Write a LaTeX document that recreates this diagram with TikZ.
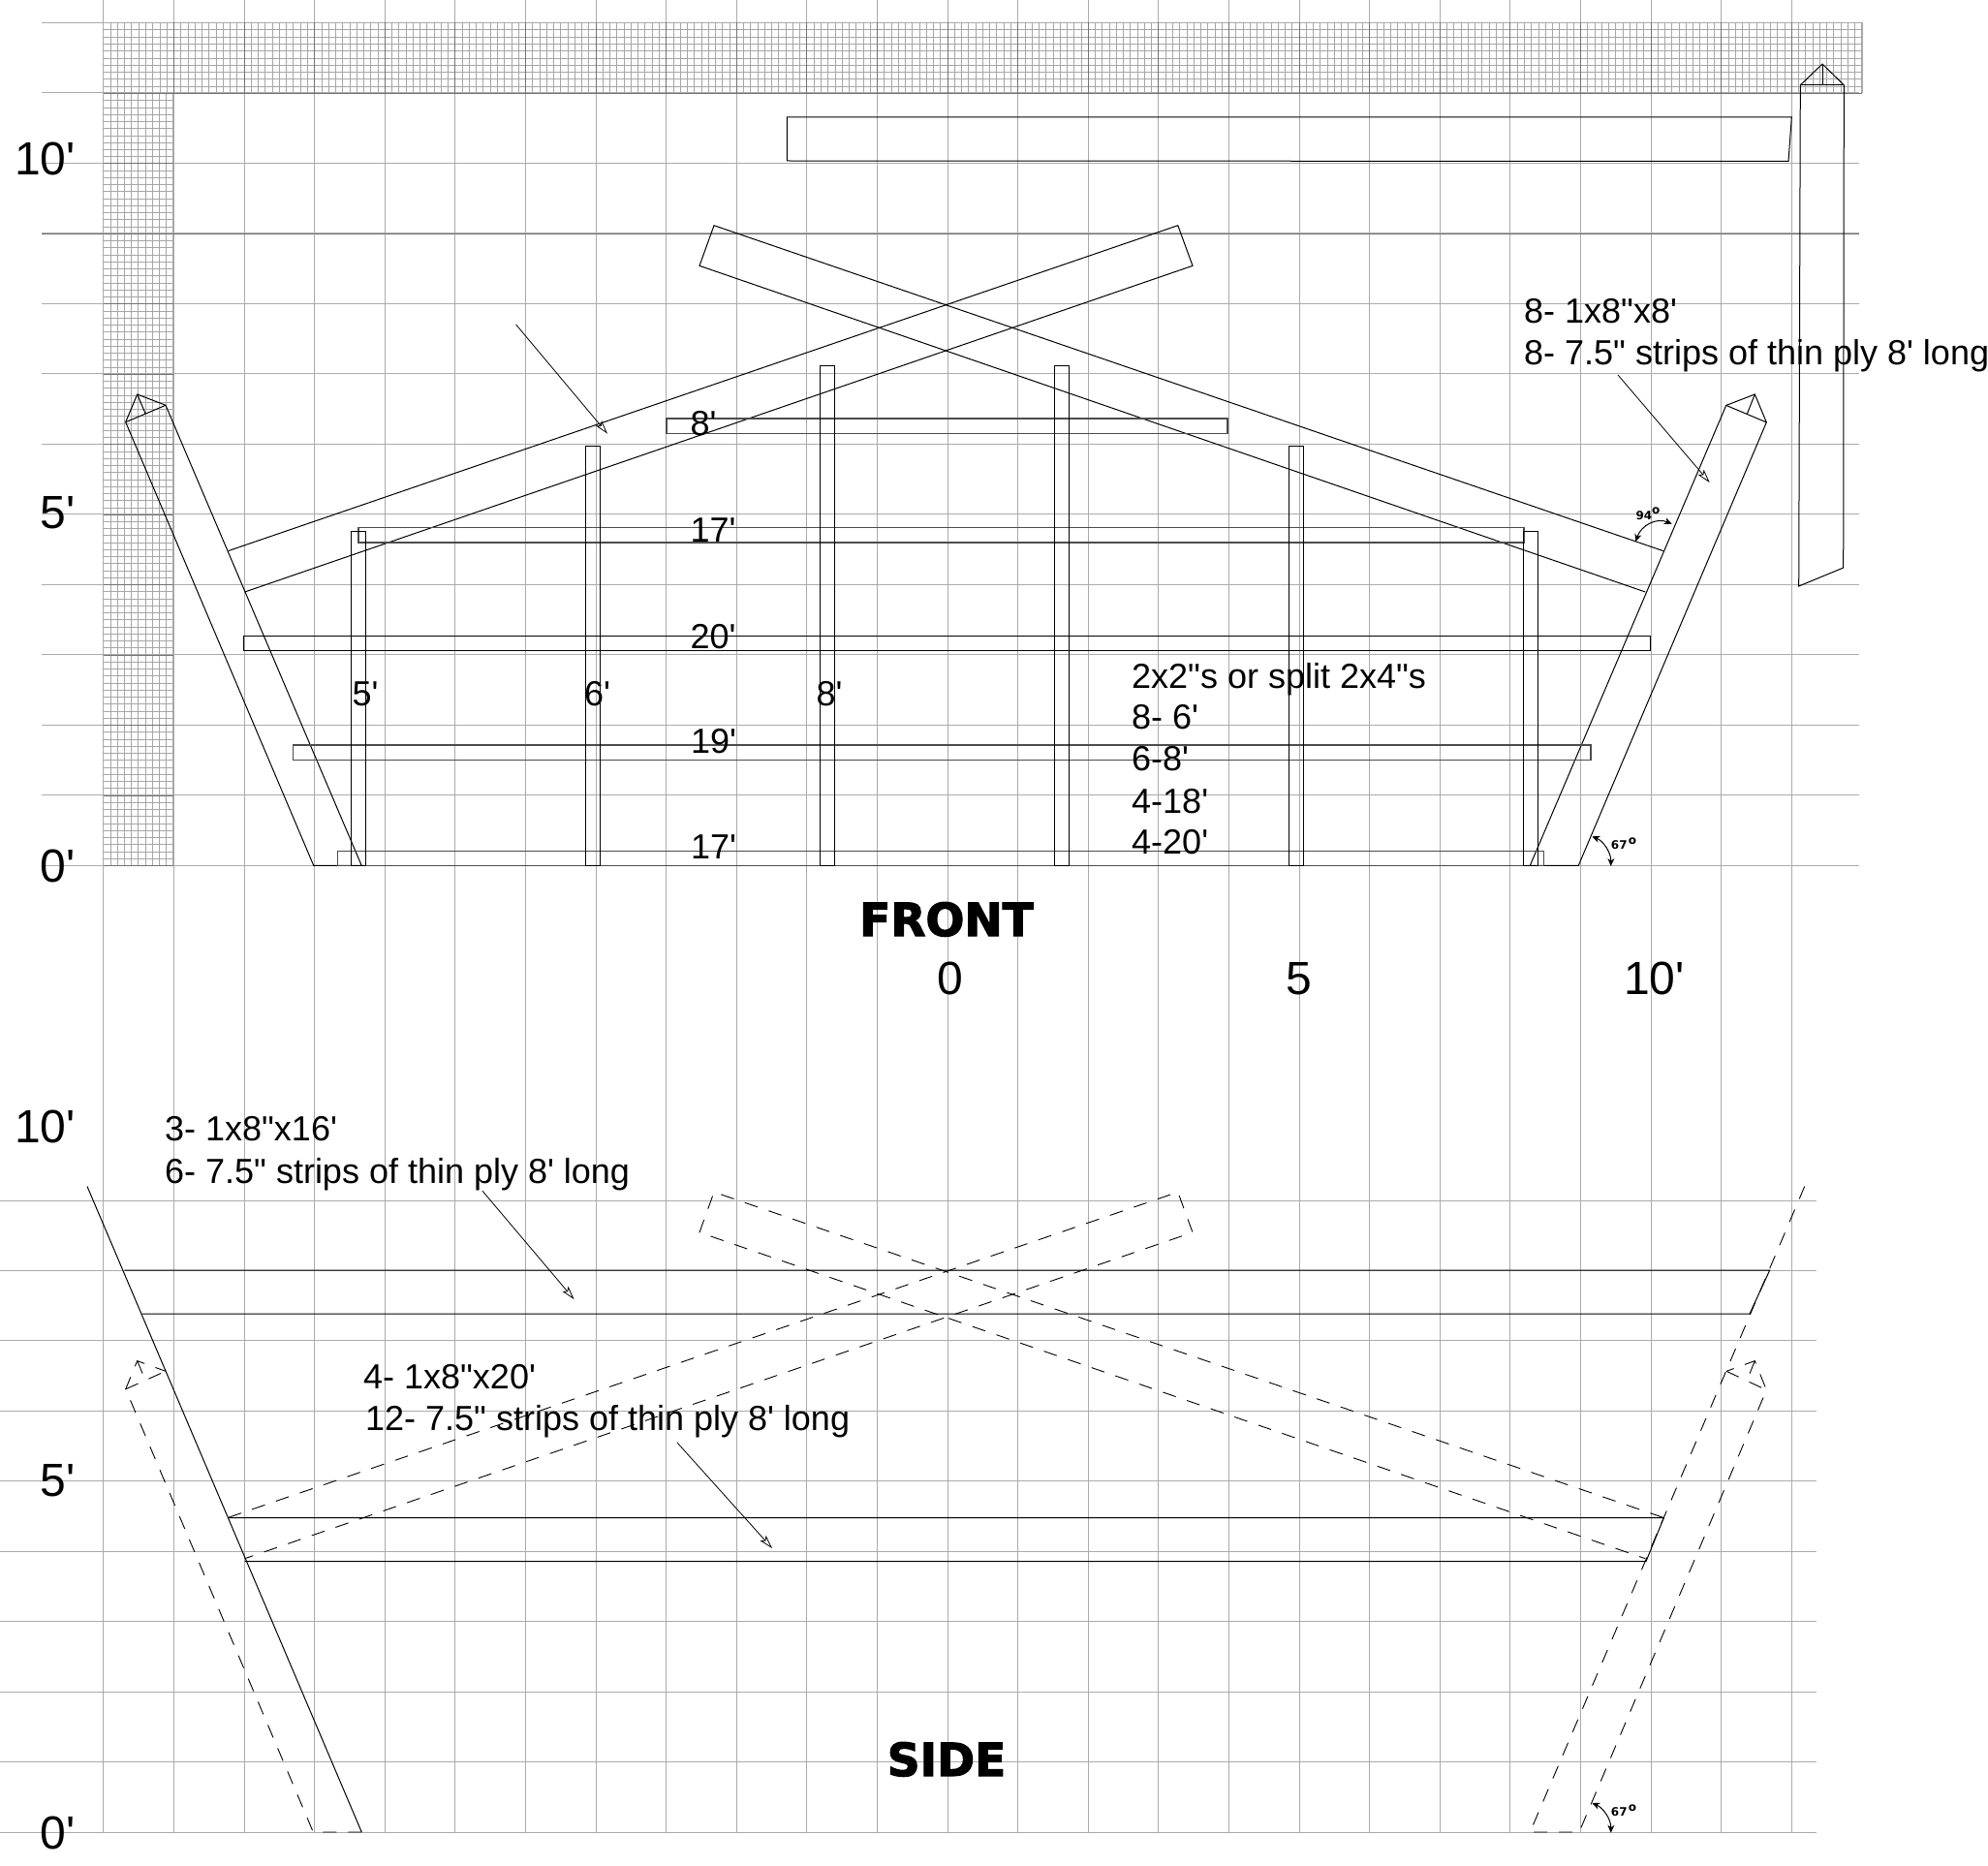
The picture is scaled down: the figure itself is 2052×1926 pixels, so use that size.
\documentclass[tikz,border=0pt]{standalone}
\usepackage{fontspec}
\usetikzlibrary{arrows.meta}
\newfontfamily\arl{Liberation Sans}
\newfontfamily\blk[FakeBold=2.5]{DejaVu Sans Bold}
\newfontfamily\tinybold{DejaVu Sans Bold}
\tikzset{
  x=1pt,y=-1pt,
  major/.style={draw=black!33,line width=0.8pt},
  darkmajor/.style={draw=black!55,line width=0.7pt},
  minor/.style={draw=black!35,line width=0.5pt},
  part/.style={draw=black,line width=1pt,line join=miter},
  barpart/.style={draw=black!70,line width=1.2pt},
  hidden/.style={draw=black,line width=0.9pt,dash pattern=on 14pt off 12pt},
  pointer/.style={draw=black,line width=0.8pt,-{Stealth[open,length=14pt,width=8pt,inset=3pt]}},
  dimarc/.style={draw=black,line width=1pt,{Stealth[length=8pt,width=7pt]}-{Stealth[length=8pt,width=7pt]}},
  big/.style={anchor=base west,inner sep=0pt,font=\arl\fontsize{48}{48}\selectfont},
  mid/.style={anchor=base west,inner sep=0pt,font=\arl\fontsize{36}{36}\selectfont},
  title/.style={anchor=base,inner sep=0pt,font=\blk\fontsize{47}{47}\selectfont},
  tiny/.style={anchor=base west,inner sep=0pt,font=\tinybold\fontsize{12}{12}\selectfont},
}
\begin{document}
\begin{tikzpicture}
\useasboundingbox (0,0) rectangle (2052,1926);
% fine grid bands
\foreach \i in {0,...,250} \draw[minor] ({106.7+7.26*\i},23.3) -- ({106.7+7.26*\i},96.3);
\foreach \i in {0,...,10} \draw[minor] (106.7,{23.3+7.3*\i}) -- (1922,{23.3+7.3*\i});
\foreach \i in {0,...,10} \draw[minor] ({106.7+7.2*\i},96.3) -- ({106.7+7.2*\i},893.3);
\foreach \i in {0,...,110} \draw[minor] (106.7,{96.3+7.245*\i}) -- (178.7,{96.3+7.245*\i});
% major grid
\foreach \k in {0,...,24} \draw[major] ({106.7+72.6*\k},0) -- ({106.7+72.6*\k},1891.2);
\draw[major] (1922,23.3) -- (1922,96.3);
\foreach \j in {0,...,12} \draw[major] (43.3,{23.3+72.5*\j}) -- (1919,{23.3+72.5*\j});
% darker major lines where they cross the fine bands
\foreach \k in {1,...,24} \draw[darkmajor] ({106.7+72.6*\k},23.3) -- ({106.7+72.6*\k},96.3);
\foreach \j in {1,...,11} \draw[darkmajor] (106.7,{96.3+72.5*\j}) -- (178.7,{96.3+72.5*\j});
\draw[darkmajor] (43.3,241) -- (1919,241);
\draw[darkmajor] (106.7,96.3) -- (1922,96.3);
\foreach \j in {0,...,9} \draw[major] (0,{1238.9+72.47*\j}) -- (1875,{1238.9+72.47*\j});
% FRONT: top plank and upright plank
\draw[part] (812.4,121) -- (1849.3,120.8) -- (1846,166.5) -- (812.4,166) -- cycle;
\draw[part] (1858.3,87.8) -- (1881,66.1) -- (1903.3,87.8) -- (1902.7,586) -- (1856.7,605) -- cycle;
\draw[part] (1858.3,87.8) -- (1903.3,87.8) (1881,66.1) -- (1881,87.8);
% FRONT: legs
\draw[part] (171,418.3) -- (141.7,407) -- (129.7,435.7) -- (323.7,893.3) -- (373.2,893.3) -- cycle;
\draw[part] (129.7,435.7) -- (171,418.3) (141.7,407) -- (150,426.7);
\draw[part] (1823.3,435.9) -- (1811.3,407) -- (1781.7,418.4) -- (1579.3,893.3) -- (1629.3,893.3) -- cycle;
\draw[part] (1781.7,418.4) -- (1823.3,435.9) (1811.3,407) -- (1803.3,427.3);
% FRONT: rafters
\draw[part] (1716.7,568.6) -- (737,232.7) -- (722,274.3) -- (1698.3,611);
\draw[part] (235.6,568.6) -- (1215.8,232.7) -- (1231,274.3) -- (252.6,611);
% FRONT: horizontal bars
\draw[barpart] (688,432) rectangle (1267,447.3);
\draw[barpart] (370,544.7) rectangle (1573,560);
\draw[part] (251.3,656.3) rectangle (1703.7,671.3);
\draw[barpart] (302.2,769) rectangle (1642,784.3);
\draw[barpart] (348.2,878.3) rectangle (1593.3,893.3);
% FRONT: posts
\draw[part] (362.5,893.3) rectangle (377.2,548.3);
\draw[part] (1572.3,893.3) rectangle (1587.3,548.3);
\draw[part] (604.5,893.3) rectangle (619.6,460.7);
\draw[part] (1330.3,893.3) rectangle (1345.3,460.7);
\draw[part] (846.5,893.3) rectangle (861.4,377);
\draw[part] (1088.3,893.3) rectangle (1103.3,377);
% SIDE: rails
\draw[part] (128.3,1311) -- (1826.7,1311) -- (1806,1356) -- (146.7,1356);
\draw[part] (236,1566.7) -- (1717.3,1566.7) -- (1699,1611.6) -- (252.7,1611.6);
\draw[part] (90,1224.5) -- (373.3,1891);
% SIDE: hidden outlines
\draw[hidden] (1862.7,1224.5) -- (1579.3,1891) -- (1630,1891) -- (1823.3,1434.7) -- (1811.3,1404.6) -- (1782,1415.3);
\draw[hidden] (1782,1415.3) -- (1823.3,1434.7) (1811.3,1404.6) -- (1803.3,1424.5);
\draw[hidden] (373.3,1891) -- (323.3,1891) -- (129.7,1433.8) -- (141.7,1404.6) -- (171,1415.3);
\draw[hidden] (129.7,1433.8) -- (171,1415.3) (141.7,1404.6) -- (150,1424.5);
\draw[hidden] (1716.7,1566.3) -- (737,1230.4) -- (722,1272) -- (1698.3,1608.7);
\draw[hidden] (235.6,1566.3) -- (1215.8,1230.4) -- (1231,1272) -- (252.6,1608.7);
% pointers
\coordinate (p1a) at (532.6,335); \coordinate (p1b) at (627,447.6);
\coordinate (p2a) at (1670,387); \coordinate (p2b) at (1764.7,498);
\coordinate (p3a) at (497.8,1229); \coordinate (p3b) at (592.5,1341);
\coordinate (p4a) at (699,1489); \coordinate (p4b) at (797,1598);
\draw[pointer] (p1a) -- (p1b);
\draw[pointer] (p2a) -- (p2b);
\draw[pointer] (p3a) -- (p3b);
\draw[pointer] (p4a) -- (p4b);
% angle marks
\coordinate (a1a) at (1688.3,559); \coordinate (a1b) at (1725.7,540.8);
\coordinate (a2a) at (1643.3,863.3); \coordinate (a2b) at (1662.7,894);
\coordinate (a3a) at (1643.3,1861); \coordinate (a3b) at (1662.7,1891.7);
\draw[dimarc] (a1a) .. controls (1694,542) and (1710,534) .. (a1b);
\draw[dimarc] (a2a) .. controls (1655,868) and (1663,880) .. (a2b);
\draw[dimarc] (a3a) .. controls (1655,1866) and (1663,1878) .. (a3b);
\node[tiny] (t94) at (1688.3,536) {94};
\node[tiny] (d94) at (1705,530.6) {o};
\node[tiny] (t67) at (1662.7,876.7) {67};
\node[tiny] (d67) at (1680.7,871.7) {o};
\node[tiny] (t67b) at (1662.7,1874.5) {67};
\node[tiny] (d67b) at (1680.7,1869.5) {o};
% axis labels
\node[big] (y10) at (15,181) {10'};
\node[big] (y5) at (41.5,545) {5'};
\node[big] (y0) at (41.5,910.6) {0'};
\node[big] (sy10) at (15,1179) {10'};
\node[big] (sy5) at (41.5,1544) {5'};
\node[big] (sy0) at (41.5,1908) {0'};
\node[big,anchor=base] (x0) at (981,1026) {0};
\node[big,anchor=base] (x5) at (1341,1026) {5};
\node[big] (x10) at (1676,1026) {10'};
% length labels
\node[mid] (l8) at (712.5,449.3) {8'};
\node[mid] (l17a) at (712.5,559.3) {17'};
\node[mid] (l20) at (712.5,669.3) {20'};
\node[mid] (l19) at (713,777.7) {19'};
\node[mid] (l17b) at (713,886.7) {17'};
\node[mid] (p5) at (363.5,728.7) {5'};
\node[mid] (p6) at (603,728.7) {6'};
\node[mid] (p8) at (842.5,728.7) {8'};
% notes
\node[mid] (n1a) at (1573,333.5) {8- 1x8"x8'};
\node[mid] (n1b) at (1573,376.5) {8- 7.5" strips of thin ply 8' long};
\node[mid] (n2a) at (1168,710) {2x2"s or split 2x4"s};
\node[mid] (n2b) at (1168,752.7) {8- 6'};
\node[mid] (n2c) at (1168,795) {6-8'};
\node[mid] (n2d) at (1168,839) {4-18'};
\node[mid] (n2e) at (1168,881.7) {4-20'};
\node[mid] (n3a) at (170,1177.3) {3- 1x8"x16'};
\node[mid] (n3b) at (170,1221.3) {6- 7.5" strips of thin ply 8' long};
\node[mid] (n4a) at (375,1433) {4- 1x8"x20'};
\node[mid] (n4b) at (377,1476.5) {12- 7.5" strips of thin ply 8' long};
% titles
\node[title] (front) at (977,966) {FRONT};
\node[title] (side) at (977,1833) {SIDE};
\end{tikzpicture}
\end{document}
